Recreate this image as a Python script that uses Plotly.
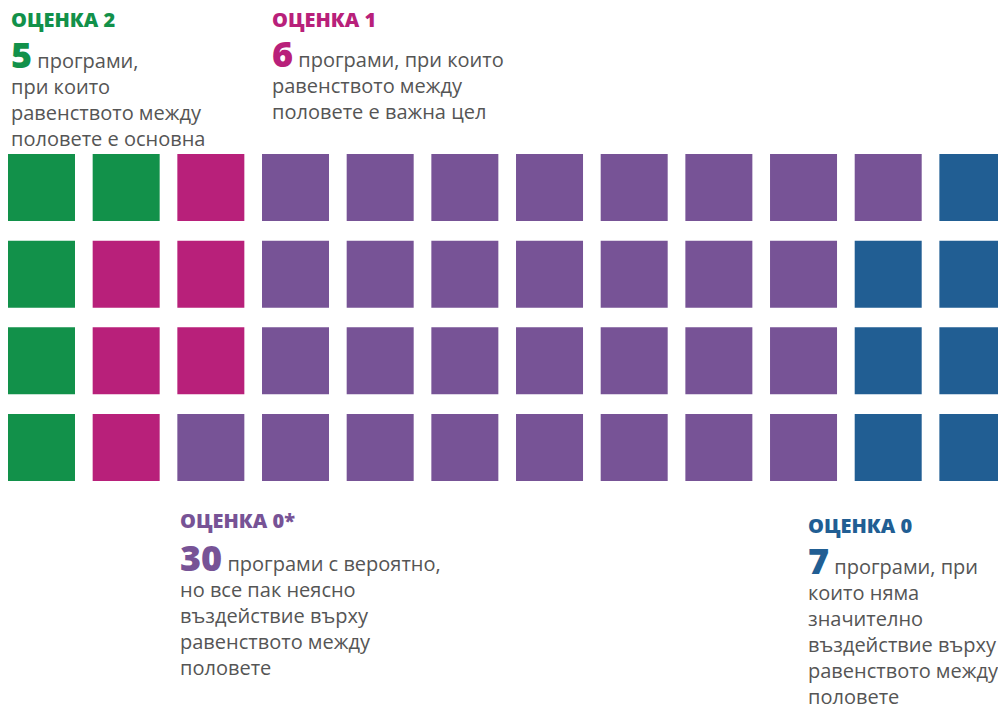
import plotly.graph_objects as go

# Data
categories = ["ОЦЕНКА 2", "ОЦЕНКА 1", "ОЦЕНКА 0*", "ОЦЕНКА 0"]
counts = [5, 6, 30, 7]
colors = ["#12914a", "#b8207a", "#775396", "#215e93"]
descriptions = [
    ["програми,", "при които", "равенството между", "половете е основна"],
    ["програми, при които", "равенството между", "половете е важна цел"],
    ["програми с вероятно,", "но все пак неясно", "въздействие върху", "равенството между", "половете"],
    ["програми, при", "които няма", "значително", "въздействие върху", "равенството между", "половете"],
]
n_rows = 4

# Build waffle cells (column-major fill)
xs, ys, cs = [], [], []
idx = 0
for cat_i, n in enumerate(counts):
    for _ in range(n):
        xs.append(idx // n_rows)
        ys.append(idx % n_rows)
        cs.append(colors[cat_i])
        idx += 1

W, H = 998, 709
fig = go.Figure()
fig.add_trace(go.Scatter(
    x=xs, y=ys, mode="markers",
    marker=dict(symbol="square", size=67, color=cs, line=dict(width=0)),
    hoverinfo="skip", showlegend=False,
))

# axis ranges so that columns sit at pixel pitch ~84.67 and rows ~86.67
col_pitch, col0 = 84.67, 41.5
row_pitch, row0 = 86.67, 187.5
x0 = -col0 / col_pitch
x1 = x0 + W / col_pitch
y_top = -row0 / row_pitch
y_bot = y_top + H / row_pitch

fig.update_xaxes(range=[x0, x1], visible=False, fixedrange=True)
fig.update_yaxes(range=[y_bot, y_top], visible=False, fixedrange=True)

ASC = 1.069   # Open Sans ascent (em)
PAD = 2       # annotation border + pad
HEAD_SIZE = 20
NUM_SIZE = 36
BODY_SIZE = 20

# text blocks: (left px, heading baseline px, first body baseline px)
blocks = [
    (9, 27.4, 68.3),
    (270, 27.4, 67.8),
    (178, 528.4, 571.3),
    (806, 533.0, 574.0),
]
body_color = "#555555"
for i, (px, hb, fb) in enumerate(blocks):
    fig.add_annotation(
        x=px / W, y=1 - (hb - ASC * HEAD_SIZE - PAD) / H, xref="paper", yref="paper",
        xanchor="left", yanchor="top", showarrow=False, align="left",
        text=f"<span style='font-weight:800'>{categories[i]}</span>",
        font=dict(family="Open Sans", size=HEAD_SIZE, color=colors[i]),
    )
    lines = descriptions[i]
    first = (f"<span style='font-size:{NUM_SIZE}px;font-weight:800;color:{colors[i]}'>{counts[i]}</span> "
             f"{lines[0]}")
    text = "<br>".join([first] + lines[1:])
    fig.add_annotation(
        x=px / W, y=1 - (fb - ASC * NUM_SIZE - PAD) / H, xref="paper", yref="paper",
        xanchor="left", yanchor="top", showarrow=False, align="left",
        text=text,
        font=dict(family="Open Sans", size=BODY_SIZE, color=body_color),
    )

fig.update_layout(
    width=W, height=H,
    margin=dict(l=0, r=0, t=0, b=0),
    paper_bgcolor="white", plot_bgcolor="white",
)

fig.write_html("out.html", config={"displayModeBar": False})
